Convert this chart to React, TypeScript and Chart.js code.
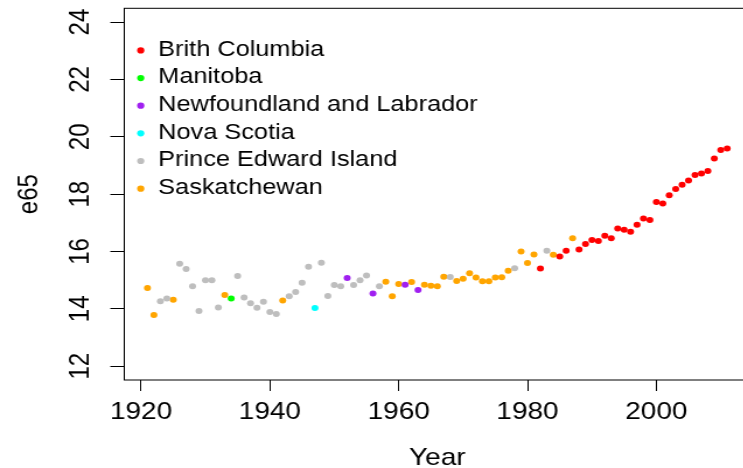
import React, { useEffect, useRef } from "react";
import { Chart, registerables } from "chart.js";

Chart.register(...registerables);

// ---- data ----
const bcYears = [1982, 1985, 1986, 1988, 1989, 1990, 1991, 1992, 1993, 1994, 1995, 1996, 1997, 1998, 1999, 2000, 2001, 2002, 2003, 2004, 2005, 2006, 2007, 2008, 2009, 2010, 2011];
const bcValues = [15.41, 15.83, 16.03, 16.07, 16.26, 16.4, 16.37, 16.55, 16.46, 16.8, 16.76, 16.69, 16.93, 17.15, 17.1, 17.73, 17.67, 17.96, 18.18, 18.33, 18.48, 18.67, 18.72, 18.81, 19.24, 19.54, 19.59];

const mbYears = [1934];
const mbValues = [14.36];

const nlYears = [1952, 1956, 1961, 1963];
const nlValues = [15.08, 14.54, 14.84, 14.66];

const nsYears = [1947];
const nsValues = [14.03];

const peYears = [1923, 1924, 1926, 1927, 1928, 1929, 1930, 1931, 1932, 1935, 1936, 1937, 1938, 1939, 1940, 1941, 1943, 1944, 1945, 1946, 1948, 1949, 1950, 1951, 1953, 1954, 1955, 1957, 1968, 1978, 1983];
const peValues = [14.27, 14.36, 15.57, 15.39, 14.79, 13.93, 15.0, 15.0, 14.05, 15.15, 14.4, 14.2, 14.04, 14.25, 13.89, 13.82, 14.44, 14.59, 14.91, 15.47, 15.61, 14.45, 14.83, 14.79, 14.83, 15.0, 15.16, 14.79, 15.11, 15.42, 16.03];

const skYears = [1921, 1922, 1925, 1933, 1942, 1958, 1959, 1960, 1962, 1964, 1965, 1966, 1967, 1969, 1970, 1971, 1972, 1973, 1974, 1975, 1976, 1977, 1979, 1980, 1981, 1984, 1987];
const skValues = [14.73, 13.79, 14.32, 14.48, 14.29, 14.95, 14.44, 14.87, 14.94, 14.84, 14.81, 14.79, 15.12, 14.97, 15.05, 15.24, 15.09, 14.96, 14.96, 15.09, 15.1, 15.33, 16.0, 15.6, 15.9, 15.89, 16.46];

const seriesLabels = ["Brith Columbia", "Manitoba", "Newfoundland and Labrador", "Nova Scotia", "Prince Edward Island", "Saskatchewan"];
const seriesColors = ["#FF0000", "#00FF00", "#A020F0", "#00FFFF", "#BEBEBE", "#FFA500"];

const xTicks = [1920, 1940, 1960, 1980, 2000];
const yTicks = [12, 14, 16, 18, 20, 22, 24];

const FONT = "'Liberation Sans', Arial, Helvetica, sans-serif";
const SX = 1.167;
const W = 646;
const H = 473;

const boxPlugin = {
  id: "rbox",
  afterDatasetsDraw(chart: any) {
    const { ctx, chartArea } = chart;
    ctx.save();
    ctx.strokeStyle = "#000";
    ctx.lineWidth = 1;
    ctx.strokeRect(chartArea.left, chartArea.top, chartArea.right - chartArea.left, chartArea.bottom - chartArea.top);
    ctx.restore();
  },
};

const legendPlugin = {
  id: "rlegend",
  afterDraw(chart: any) {
    const { ctx, chartArea } = chart;
    ctx.save();
    ctx.font = `21.7px ${FONT}`;
    ctx.textBaseline = "middle";
    ctx.textAlign = "left";
    chart.data.datasets.forEach((ds: any, i: number) => {
      const y = chartArea.top + 41.5 + i * 27.65;
      ctx.fillStyle = ds.backgroundColor;
      ctx.beginPath();
      ctx.arc(chartArea.left + 14.1, y + 0.6, 3.1, 0, Math.PI * 2);
      ctx.fill();
      ctx.fillStyle = "#000";
      ctx.fillText(ds.label, chartArea.left + 29.1, y);
    });
    ctx.restore();
  },
};

export default function App() {
  const ref = useRef<HTMLCanvasElement>(null);
  useEffect(() => {
    if (!ref.current) return;
    const groups = [
      [bcYears, bcValues],
      [mbYears, mbValues],
      [nlYears, nlValues],
      [nsYears, nsValues],
      [peYears, peValues],
      [skYears, skValues],
    ];
    const datasets = groups.map(([xs, ys], i) => ({
      label: seriesLabels[i],
      data: xs.map((x, j) => ({ x, y: ys[j] })),
      backgroundColor: seriesColors[i],
      borderColor: seriesColors[i],
      pointRadius: 3,
      pointHoverRadius: 3,
      pointBorderWidth: 0,
    }));
    const chart = new Chart(ref.current, {
      type: "scatter",
      data: { datasets },
      options: {
        animation: false,
        responsive: false,
        devicePixelRatio: 1,
        layout: { padding: { top: 8.3, right: 2.3, left: 0, bottom: 0 } },
        plugins: { legend: { display: false }, tooltip: { enabled: false } },
        scales: {
          x: {
            type: "linear",
            min: 1917.4,
            max: 2014.6,
            afterBuildTicks: (s: any) => {
              s.ticks = xTicks.map((v) => ({ value: v }));
            },
            afterFit: (s: any) => {
              s.height = 93;
              s.paddingLeft = 0;
              s.paddingRight = 0;
            },
            border: { display: false },
            grid: { drawOnChartArea: false, drawTicks: true, tickLength: 11, tickColor: "#000", tickWidth: 1 },
            ticks: {
              color: "#000",
              font: { family: FONT, size: 24 },
              padding: 7,
              minRotation: 0,
              maxRotation: 0,
              autoSkip: false,
              callback: (v: any) => String(v),
            },
            title: { display: true, text: "Year", color: "#000", font: { family: FONT, size: 24 }, padding: { top: 0, bottom: 0 } },
          },
          y: {
            type: "linear",
            min: 11.52,
            max: 24.48,
            afterBuildTicks: (s: any) => {
              s.ticks = yTicks.map((v) => ({ value: v }));
            },
            afterFit: (s: any) => {
              s.width = 106.5;
              s.paddingTop = 0;
              s.paddingBottom = 0;
            },
            border: { display: false },
            grid: { drawOnChartArea: false, drawTicks: true, tickLength: 12, tickColor: "#000", tickWidth: 1 },
            ticks: {
              color: "#000",
              font: { family: FONT, size: 24 },
              padding: 11.6,
              minRotation: 90,
              maxRotation: 90,
              crossAlign: "center",
              autoSkip: false,
              callback: (v: any) => String(v),
            },
            title: { display: true, text: "e65", color: "#000", font: { family: FONT, size: 24 }, padding: { top: 11.3, bottom: 0 } },
          },
        },
      },
      plugins: [boxPlugin, legendPlugin],
    } as any);
    return () => chart.destroy();
  }, []);
  return (
    <div style={{ position: "absolute", left: 0, top: 0, width: 743, height: 468, overflow: "hidden", background: "#fff" }}>
      <canvas
        ref={ref}
        width={W}
        height={H}
        style={{ width: W, height: H, display: "block", transform: `scale(${SX}, 1)`, transformOrigin: "0 0" }}
      />
    </div>
  );
}
